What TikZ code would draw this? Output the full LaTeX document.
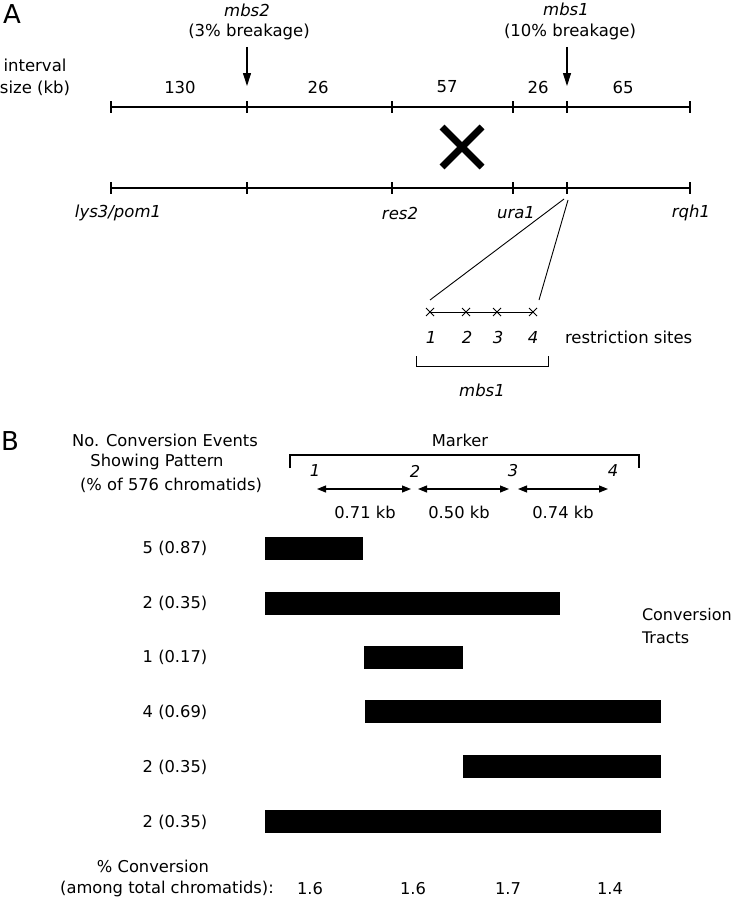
\documentclass[tikz,border=0pt]{standalone}
\usepackage{fontspec}
\setmainfont{DejaVu Sans}
\usetikzlibrary{arrows.meta}
\begin{document}
\begin{tikzpicture}[x=1pt,y=-1pt,
  every node/.style={inner sep=0pt,outer sep=0pt},
  afont/.style={font=\fontsize{16.5}{20}\selectfont},
  aital/.style={font=\fontsize{16.5}{20}\selectfont\itshape},
  bfnt/.style={font=\fontsize{16.3}{20}\selectfont},
  bital/.style={font=\fontsize{16.3}{20}\selectfont\itshape},
  panel/.style={font=\fontsize{26}{30}\selectfont},
  chrom/.style={line width=1.1pt},
  brk/.style={line width=1.1pt,-{Triangle[length=13pt,width=8pt]}},
  dbl/.style={line width=1.1pt,{Triangle[length=9pt,width=7pt]}-{Triangle[length=9pt,width=7pt]}},
  tract/.style={fill=black,draw=none,anchor=north west}]
\useasboundingbox (0,0) rectangle (734,899);

% ---------------- Panel A ----------------
\node[panel] (A) at (12,14) {A};
\node[afont] (int1) at (35,65) {interval};
\node[afont] (int2) at (35,88) {size (kb)};

\node[aital] (mbs2) at (247,10) {mbs2};
\node[afont] (mbs2b) at (249,32) {(3\% breakage)};
\node[aital] (mbs1) at (566,9) {mbs1};
\node[afont] (mbs1b) at (570,32) {(10\% breakage)};

\coordinate (a2top) at (247,47);
\coordinate (a2bot) at (247,86);
\coordinate (a1top) at (567,47);
\coordinate (a1bot) at (567,86);
\draw[brk] (a2top) -- (a2bot);
\draw[brk] (a1top) -- (a1bot);

% top chromosome
\coordinate (tL) at (111,107);
\coordinate (tR) at (690,107);
\draw[chrom] (tL) -- (tR);
\foreach \x in {111,247,392,513,567,690} {
  \coordinate (tu\x) at (\x,101);
  \coordinate (td\x) at (\x,113);
  \draw[chrom] (tu\x) -- (td\x);
}
\node[afont] (s130) at (180,87) {130};
\node[afont] (s26a) at (318,87) {26};
\node[afont] (s57) at (447,87) {57};
\node[afont] (s26b) at (538,87) {26};
\node[afont] (s65) at (623,87) {65};

% crossover X
\coordinate (x1) at (442,127);
\coordinate (x2) at (482,167);
\coordinate (x3) at (482,127);
\coordinate (x4) at (442,167);
\draw[line width=7pt] (x1) -- (x2);
\draw[line width=7pt] (x3) -- (x4);

% bottom chromosome
\coordinate (bL) at (111,188);
\coordinate (bR) at (690,188);
\draw[chrom] (bL) -- (bR);
\foreach \x in {111,247,392,513,567,690} {
  \coordinate (bu\x) at (\x,182);
  \coordinate (bd\x) at (\x,194);
  \draw[chrom] (bu\x) -- (bd\x);
}
\node[aital] (lys) at (118,213) {lys3/pom1};
\node[aital] (res) at (400,213) {res2};
\node[aital] (ura) at (516,213) {ura1};
\node[aital] (rqh) at (691,213) {rqh1};

% expansion of mbs1
\coordinate (apexL) at (564,199);
\coordinate (apexR) at (568,200);
\coordinate (ex1) at (430,300);
\coordinate (ex4) at (539,300);
\draw[line width=0.9pt] (apexL) -- (ex1);
\draw[line width=0.9pt] (apexR) -- (ex4);

\coordinate (rL) at (430,312);
\coordinate (rR) at (533,312);
\draw[line width=0.9pt] (rL) -- (rR);
\foreach \x/\n in {430/1,466/2,497/3,533/4} {
  \coordinate (xa\n) at (\x-4,308);
  \coordinate (xb\n) at (\x+4,316);
  \coordinate (xc\n) at (\x+4,308);
  \coordinate (xd\n) at (\x-4,316);
  \draw[line width=0.9pt] (xa\n) -- (xb\n);
  \draw[line width=0.9pt] (xc\n) -- (xd\n);
}
\node[aital] (n1) at (431,337) {1};
\node[aital] (n2) at (467,337) {2};
\node[aital] (n3) at (498,337) {3};
\node[aital] (n4) at (533,337) {4};
\node[afont,anchor=west] (rs) at (565,337) {restriction sites};

\coordinate (bk1) at (416,356);
\coordinate (bk2) at (416,366);
\coordinate (bk3) at (548,366);
\coordinate (bk4) at (548,356);
\draw[line width=0.9pt] (bk1) -- (bk2) -- (bk3) -- (bk4);
\node[aital] (mbsone) at (482,390) {mbs1};

% ---------------- Panel B ----------------
\node[panel] (B) at (10,441) {B};
\node[bfnt] (h1) at (165,440) {No. Conversion Events};
\node[bfnt] (h2) at (157,462) {Showing Pattern};
\node[bfnt] (h3) at (171,485) {(\% of 576 chromatids)};
\node[bfnt] (mk) at (460,440) {Marker};

\coordinate (mb1) at (290,468);
\coordinate (mb2) at (290,455);
\coordinate (mb3) at (639,455);
\coordinate (mb4) at (639,468);
\draw[chrom] (mb1) -- (mb2) -- (mb3) -- (mb4);

\node[bital] (m1) at (315,471) {1};
\node[bital] (m2) at (415,471) {2};
\node[bital] (m3) at (513,471) {3};
\node[bital] (m4) at (613,471) {4};

\coordinate (d1a) at (317,489);
\coordinate (d1b) at (411,489);
\coordinate (d2a) at (418,489);
\coordinate (d2b) at (509,489);
\coordinate (d3a) at (518,489);
\coordinate (d3b) at (608,489);
\draw[dbl] (d1a) -- (d1b);
\draw[dbl] (d2a) -- (d2b);
\draw[dbl] (d3a) -- (d3b);
\node[bfnt] (k1) at (365,512) {0.71 kb};
\node[bfnt] (k2) at (459,512) {0.50 kb};
\node[bfnt] (k3) at (563,512) {0.74 kb};

% tracts
\node[tract,minimum width=98pt,minimum height=23pt] (r1) at (265,537) {};
\node[tract,minimum width=295pt,minimum height=23pt] (r2) at (265,592) {};
\node[tract,minimum width=99pt,minimum height=23pt] (r3) at (364,646) {};
\node[tract,minimum width=296pt,minimum height=23pt] (r4) at (365,700) {};
\node[tract,minimum width=198pt,minimum height=23pt] (r5) at (463,755) {};
\node[tract,minimum width=396pt,minimum height=23pt] (r6) at (265,810) {};

\node[bfnt] (c1) at (175,548) {5 (0.87)};
\node[bfnt] (c2) at (175,603) {2 (0.35)};
\node[bfnt] (c3) at (175,657) {1 (0.17)};
\node[bfnt] (c4) at (175,712) {4 (0.69)};
\node[bfnt] (c5) at (175,767) {2 (0.35)};
\node[bfnt] (c6) at (175,822) {2 (0.35)};

\node[font=\fontsize{16}{20}\selectfont,anchor=west] (ct1) at (642,615) {Conversion};
\node[font=\fontsize{16}{20}\selectfont,anchor=west] (ct2) at (642,638) {Tracts};

\node[bfnt] (pc1) at (153,866) {\% Conversion};
\node[bfnt] (pc2) at (167,889) {(among total chromatids):};
\node[bfnt] (v1) at (310,889) {1.6};
\node[bfnt] (v2) at (413,889) {1.6};
\node[bfnt] (v3) at (508,889) {1.7};
\node[bfnt] (v4) at (610,889) {1.4};
\end{tikzpicture}
\end{document}
